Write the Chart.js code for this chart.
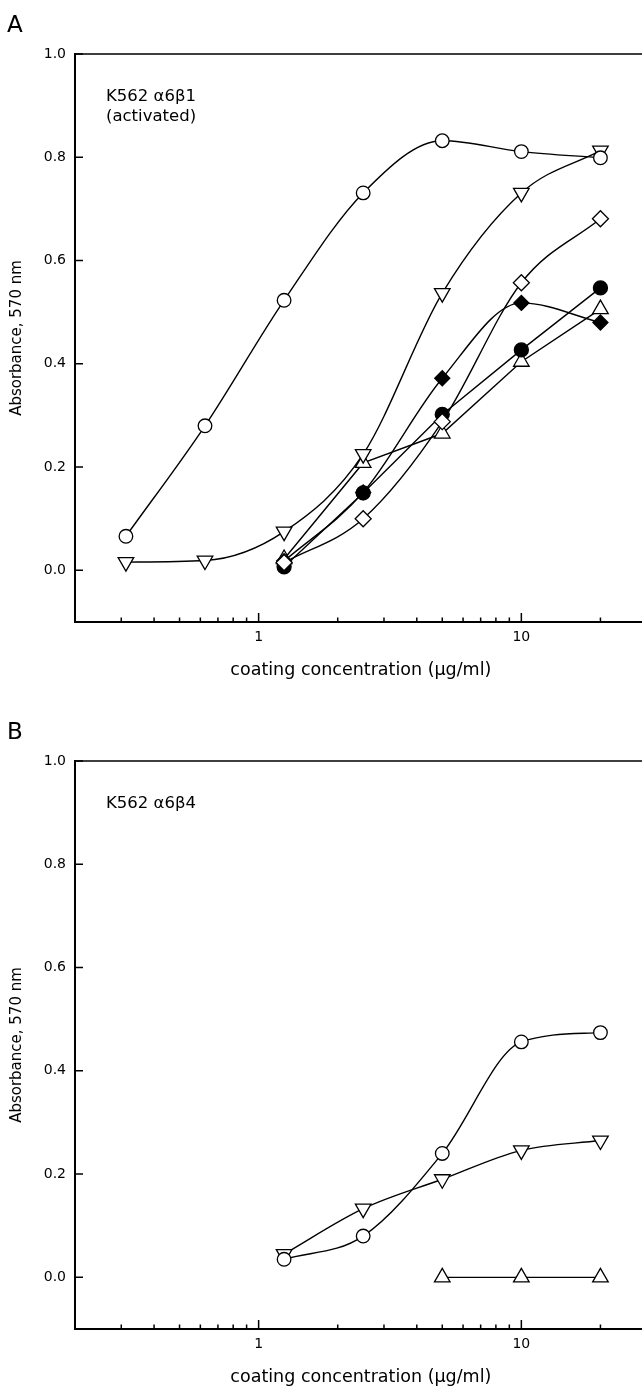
<!DOCTYPE html>
<html><head><meta charset="utf-8">
<script src="https://cdn.jsdelivr.net/npm/chart.js@4/dist/chart.umd.min.js"></script>
<style>
html,body{margin:0;padding:0;background:#fff;overflow:hidden;width:642px;height:1396px;}
#wrap{position:relative;width:642px;height:1396px;overflow:hidden;background:#fff;}
canvas{position:absolute;left:0;}
.lbl{position:absolute;font-family:"DejaVu Sans";color:#000;white-space:nowrap;}
</style></head>
<body><div id="wrap">
<canvas id="cA" width="657" height="700" style="top:0px"></canvas>
<canvas id="cB" width="657" height="700" style="top:707px"></canvas>
<div class="lbl" style="left:7px;top:13px;font-size:23px;line-height:23px">A</div>
<div class="lbl" style="left:7px;top:720px;font-size:23px;line-height:23px">B</div>
<div class="lbl" style="left:106px;top:86px;font-size:16.5px;line-height:20px">K562 α6β1<br>(activated)</div>
<div class="lbl" style="left:106px;top:793px;font-size:16.5px;line-height:20px">K562 α6β4</div>
</div>
<script>
// ---- data ----
const xLabelTicks = [1, 10];
const xTickValues = [0.3,0.4,0.5,0.6,0.7,0.8,0.9,1,2,3,4,5,6,7,8,9,10,20,30];
const yTickValues = [0.0,0.2,0.4,0.6,0.8,1.0];

// Panel A
const concA7 = [0.3125, 0.625, 1.25, 2.5, 5, 10, 20];
const concA5 = [1.25, 2.5, 5, 10, 20];
const openCircleA   = [0.066, 0.280, 0.523, 0.731, 0.832, 0.811, 0.799];
const triDownA      = [0.016, 0.019, 0.075, 0.225, 0.537, 0.731, 0.813];
const openDiamondA  = [0.015, 0.100, 0.288, 0.557, 0.681];
const filledDiamondA= [0.018, 0.151, 0.372, 0.518, 0.480];
const filledCircleA = [0.007, 0.150, 0.302, 0.427, 0.547];
const triUpA        = [0.022, 0.208, 0.265, 0.404, 0.506];

// Panel B
const concB5 = [1.25, 2.5, 5, 10, 20];
const concB3 = [5, 10, 20];
const openCircleB = [0.035, 0.080, 0.240, 0.456, 0.474];
const triDownB    = [0.045, 0.133, 0.190, 0.246, 0.265];
const triUpB      = [0.000, 0.000, 0.000];

const FONT = 'DejaVu Sans';
const pts = (xs, ys) => xs.map((x, i) => ({x, y: ys[i]}));
const SMOOTH = {cubicInterpolationMode: 'monotone'};

function ds(xs, ys, style, opts) {
  const base = {
    data: pts(xs, ys),
    borderColor: '#000',
    borderWidth: 1.4,
    pointBorderColor: '#000',
    pointBorderWidth: 1.3,
    pointBackgroundColor: '#fff',
    pointStyle: 'circle',
    pointRadius: 6.5,
    tension: 0,
    fill: false
  };
  const m = {
    openCircle:   {pointStyle:'circle', pointRadius:6.8, pointBackgroundColor:'#fff'},
    filledCircle: {pointStyle:'circle', pointRadius:7, pointBackgroundColor:'#000'},
    triDown:      {pointStyle:'triangle', pointRadius:9, pointRotation:180, pointBackgroundColor:'#fff'},
    triUp:        {pointStyle:'triangle', pointRadius:9, pointBackgroundColor:'#fff'},
    openDiamond:  {pointStyle:'rectRot', pointRadius:8, pointBackgroundColor:'#fff'},
    filledDiamond:{pointStyle:'rectRot', pointRadius:7.5, pointBackgroundColor:'#000'}
  }[style];
  return Object.assign(base, m, opts || {});
}

const frameTicks = {
  id: 'frameTicks',
  afterDraw(chart) {
    const {ctx, chartArea: a, scales: {x, y}} = chart;
    ctx.save();
    ctx.strokeStyle = '#000';
    ctx.lineWidth = 1.6;
    ctx.beginPath();
    ctx.moveTo(a.left, a.top); ctx.lineTo(a.right, a.top); ctx.lineTo(a.right, a.bottom);
    ctx.stroke();
    ctx.lineWidth = 1.5;
    ctx.beginPath();
    x.ticks.forEach(t => {
      const px = x.getPixelForValue(t.value);
      if (px <= a.left + 1 || px >= a.right - 1) return;
      const len = xLabelTicks.includes(t.value) ? 9 : 4.5;
      ctx.moveTo(px, a.bottom); ctx.lineTo(px, a.bottom - len);
    });
    y.ticks.forEach(t => {
      const py = y.getPixelForValue(t.value);
      ctx.moveTo(a.left, py); ctx.lineTo(a.left + 8, py);
    });
    ctx.stroke();
    ctx.restore();
  }
};

function makeChart(id, datasets) {
  return new Chart(document.getElementById(id), {
    type: 'line',
    data: {datasets},
    plugins: [frameTicks],
    options: {
      responsive: false,
      animation: false,
      devicePixelRatio: 1,
      layout: {padding: {top: 54, right: 4, bottom: 0, left: 0}},
      plugins: {legend: {display: false}, tooltip: {enabled: false}},
      scales: {
        x: {
          type: 'logarithmic',
          min: 0.2, max: 30,
          afterFit: s => { s.height = 78; },
          afterBuildTicks: s => { s.ticks = xTickValues.map(v => ({value: v})); },
          grid: {display: false, drawTicks: false},
          border: {display: true, color: '#000', width: 2},
          ticks: {
            autoSkip: false, maxRotation: 0, padding: 7,
            color: '#000', font: {family: FONT, size: 14},
            callback: v => xLabelTicks.includes(v) ? String(v) : ''
          },
          title: {display: true, text: 'coating concentration (μg/ml)', color: '#000',
                  font: {family: FONT, size: 17.5}, padding: {top: 0, bottom: 19}}
        },
        y: {
          type: 'linear',
          min: -0.1, max: 1.0,
          afterFit: s => { s.width = 75; },
          afterBuildTicks: s => { s.ticks = yTickValues.map(v => ({value: v})); },
          grid: {display: false, drawTicks: false},
          border: {display: true, color: '#000', width: 2},
          ticks: {
            padding: 9, color: '#000', font: {family: FONT, size: 14},
            callback: v => Number(v).toFixed(1)
          },
          title: {display: true, text: 'Absorbance, 570 nm', color: '#000',
                  font: {family: FONT, size: 15}, padding: {top: 8, bottom: 0}}
        }
      }
    }
  });
}

makeChart('cA', [
  ds(concA7, openCircleA, 'openCircle', SMOOTH),
  ds(concA7, triDownA, 'triDown', SMOOTH),
  ds(concA5, openDiamondA, 'openDiamond', SMOOTH),
  ds(concA5, filledDiamondA, 'filledDiamond', SMOOTH),
  ds(concA5, filledCircleA, 'filledCircle'),
  ds(concA5, triUpA, 'triUp')
]);

makeChart('cB', [
  ds(concB5, openCircleB, 'openCircle', SMOOTH),
  ds(concB5, triDownB, 'triDown', SMOOTH),
  ds(concB3, triUpB, 'triUp')
]);
</script>
</body></html>
